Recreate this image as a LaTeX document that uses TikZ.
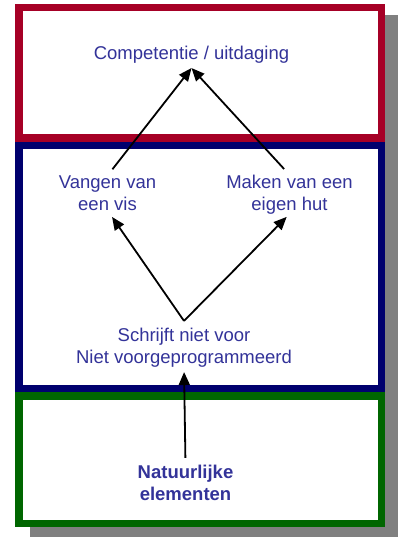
\documentclass[tikz,border=0pt]{standalone}
\usepackage{fontspec}
\setmainfont{Liberation Sans}
\usetikzlibrary{positioning,arrows.meta}
\definecolor{FrameRed}{RGB}{166,0,38}
\definecolor{FrameNavy}{RGB}{0,0,110}
\definecolor{FrameGreen}{RGB}{0,102,0}
\definecolor{LabelBlue}{RGB}{51,51,153}
\definecolor{ShadowGrey}{RGB}{128,128,128}

\begin{document}
\begin{tikzpicture}[x=1pt, y=-1pt, font=\fontsize{18.5}{21.5}\selectfont,
  every node/.style={align=center, text=LabelBlue, inner sep=0pt},
  frame/.style={line width=7.5pt, fill=white},
  link/.style={-{Triangle[length=13pt,width=11pt]}, line width=1.8pt}]
  \useasboundingbox (0,0) rectangle (398,537);
  \begin{scope}
    \clip (0,0) rectangle (398,537);
    \fill[ShadowGrey] (30,15) rectangle (400,538);
  \end{scope}
  \draw[frame, draw=FrameGreen] (18.75,395.75) rectangle (381.25,523.25);
  \draw[frame, draw=FrameNavy] (18.75,145.75) rectangle (381.25,388.25);
  \draw[frame, draw=FrameRed] (18.75,7.75) rectangle (381.25,138.25);
  \node[anchor=base] (goal) at (191.5,60) {Competentie / uitdaging};
  \node[anchor=base] (fish) at (107.5,210) {Vangen van\\een vis};
  \node[anchor=base] (hut) at (289.5,210) {Maken van een\\eigen hut};
  \node[anchor=base] (free) at (184,363) {Schrijft niet voor\\Niet voorgeprogrammeerd};
  \node[anchor=base, font=\fontsize{18.5}{21.5}\selectfont\bfseries] (nature) at (185.5,500) {Natuurlijke\\elementen};
  \coordinate (peak) at ([yshift=-4pt]goal.south);
  \coordinate (split) at ([yshift=7pt]free.north);
  \draw[link, shorten <=8pt] (fish.north) -- (peak);
  \draw[link, shorten <=8pt] (hut.north) -- (peak);
  \draw[link, shorten >=8pt] (split) -- (fish.south);
  \draw[link, shorten >=4pt] (split) -- (hut.south);
  \draw[link, shorten <=7pt, shorten >=5pt] (nature.north) -- (free.south);
\end{tikzpicture}
\end{document}
